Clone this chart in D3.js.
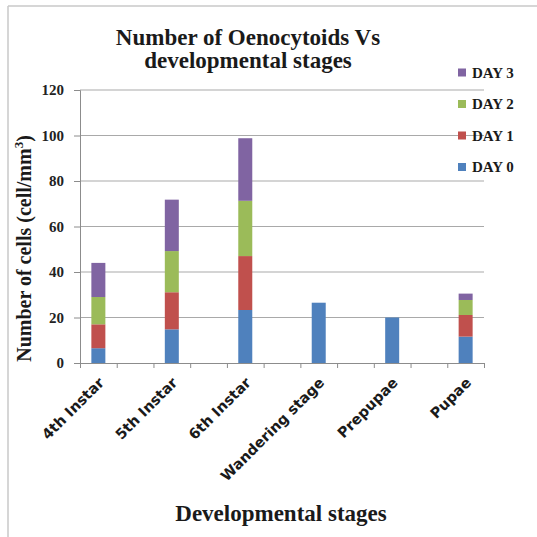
<!DOCTYPE html>
<html>
<head>
<meta charset="utf-8">
<script src="https://cdn.jsdelivr.net/npm/d3@7"></script>
<style>
  html, body { margin: 0; padding: 0; background: #fff; }
  svg { display: block; }
</style>
</head>
<body>
<svg id="chart" width="537" height="537"></svg>
<script>
// Developmental stages on the x axis
const stages = ["4th Instar", "5th Instar", "6th Instar", "Wandering stage", "Prepupae", "Pupae"];
// Series (stacked bottom to top)
const seriesNames = ["DAY 0", "DAY 1", "DAY 2", "DAY 3"];
const day0 = [6.5, 14.8, 23.3, 26.5, 20, 11.6];
const day1 = [10.5, 16.3, 23.7, 0, 0, 9.5];
const day2 = [12, 18.1, 24.3, 0, 0, 6.6];
const day3 = [15, 22.6, 27.5, 0, 0, 2.8];
const seriesColors = ["#4F81BD", "#C0504D", "#9BBB59", "#8064A2"];
const yTicks = [0, 20, 40, 60, 80, 100, 120];

const svg = d3.select("#chart");

// Light frame along the top and left edges
svg.append("line").attr("x1", 8).attr("x2", 537).attr("y1", 6).attr("y2", 6)
  .attr("stroke", "#c8c8c8").attr("stroke-width", 1.5);
svg.append("line").attr("x1", 8).attr("x2", 8).attr("y1", 6).attr("y2", 537)
  .attr("stroke", "#c8c8c8").attr("stroke-width", 1.5);

const plot = { left: 80, right: 484, top: 90, bottom: 363 };

const y = d3.scaleLinear().domain([0, 120]).range([plot.bottom, plot.top]);
const x = d3.scalePoint().domain(stages).range([plot.left, plot.right]).padding(0.25);
// Minor category divisions on the x axis
const slots = d3.scaleLinear().domain([0, 11]).range([plot.left, plot.right]);

// Gridlines
svg.append("g").selectAll("line").data(yTicks.filter(d => d > 0)).join("line")
  .attr("x1", plot.left).attr("x2", plot.right)
  .attr("y1", d => y(d)).attr("y2", d => y(d))
  .attr("stroke", "#a9a9a9").attr("stroke-width", 1);

// Stacked bars
const table = stages.map((s, i) => ({ stage: s, "DAY 0": day0[i], "DAY 1": day1[i], "DAY 2": day2[i], "DAY 3": day3[i] }));
const stacked = d3.stack().keys(seriesNames)(table);
const barW = 14;
svg.append("g").selectAll("g").data(stacked).join("g")
  .attr("fill", (d, i) => seriesColors[i])
  .selectAll("rect").data(d => d).join("rect")
  .attr("x", d => x(d.data.stage) - barW / 2)
  .attr("width", barW)
  .attr("y", d => y(d[1]))
  .attr("height", d => y(d[0]) - y(d[1]));

// Y axis
const yAxis = svg.append("g").attr("transform", `translate(${plot.left},0)`)
  .call(d3.axisLeft(y).tickValues(yTicks).tickSize(6).tickPadding(10));
yAxis.select(".domain").attr("stroke", "#8c8c8c");
yAxis.selectAll(".tick line").attr("stroke", "#8c8c8c");
yAxis.selectAll("text")
  .attr("font-family", "'Liberation Serif', 'Times New Roman', serif")
  .attr("font-weight", "bold").attr("font-size", 15).attr("fill", "#222");

// X axis
const xAxis = svg.append("g").attr("transform", `translate(0,${plot.bottom})`)
  .call(d3.axisBottom(slots).tickValues(d3.range(12)).tickSize(5).tickFormat(""));
xAxis.select(".domain").attr("stroke", "#8c8c8c");
xAxis.selectAll(".tick line").attr("stroke", "#8c8c8c");

// Rotated category labels
svg.append("g").selectAll("text").data(stages).join("text")
  .attr("transform", d => `translate(${x(d) + 3},${plot.bottom + 17}) rotate(-45)`)
  .attr("text-anchor", "end")
  .attr("dy", "0.35em")
  .attr("font-family", "'DejaVu Sans', 'Liberation Sans', Arial, sans-serif")
  .attr("font-weight", "bold").attr("font-size", 14.5).attr("fill", "#1a1a1a")
  .text(d => d);

// Title
const title = svg.append("text")
  .attr("x", 248).attr("text-anchor", "middle")
  .attr("font-family", "'Liberation Serif', 'Times New Roman', serif")
  .attr("font-weight", "bold").attr("font-size", 23).attr("fill", "#1a1a1a");
title.append("tspan").attr("x", 248).attr("y", 45).text("Number of Oenocytoids Vs");
title.append("tspan").attr("x", 248).attr("y", 68).text("developmental stages");

// Axis titles
svg.append("text")
  .attr("transform", `translate(31,${(plot.top + plot.bottom) / 2 + 22}) rotate(-90)`)
  .attr("text-anchor", "middle")
  .attr("font-family", "'Liberation Serif', 'Times New Roman', serif")
  .attr("font-weight", "bold").attr("font-size", 20).attr("fill", "#1a1a1a")
  .call(t => {
    t.append("tspan").text("Number of cells (cell/mm");
    t.append("tspan").attr("font-size", 13).attr("dy", "-0.6em").text("3");
    t.append("tspan").attr("dy", "0.4em").text(")");
  });

svg.append("text")
  .attr("x", 281).attr("y", 521).attr("text-anchor", "middle")
  .attr("font-family", "'Liberation Serif', 'Times New Roman', serif")
  .attr("font-weight", "bold").attr("font-size", 23).attr("fill", "#1a1a1a")
  .text("Developmental stages");

// Legend (DAY 3 at the top)
const legendItems = seriesNames.map((n, i) => ({ name: n, color: seriesColors[i] })).reverse();
const legend = svg.append("g").selectAll("g").data(legendItems).join("g")
  .attr("transform", (d, i) => `translate(458,${72.5 + i * 31.5})`);
legend.append("rect").attr("x", 0).attr("y", -4).attr("width", 8).attr("height", 8)
  .attr("fill", d => d.color);
legend.append("text").attr("x", 14).attr("y", 0).attr("dy", "0.35em")
  .attr("font-family", "'Liberation Serif', 'Times New Roman', serif")
  .attr("font-weight", "bold").attr("font-size", 15).attr("fill", "#1a1a1a")
  .text(d => d.name);
</script>
</body>
</html>
